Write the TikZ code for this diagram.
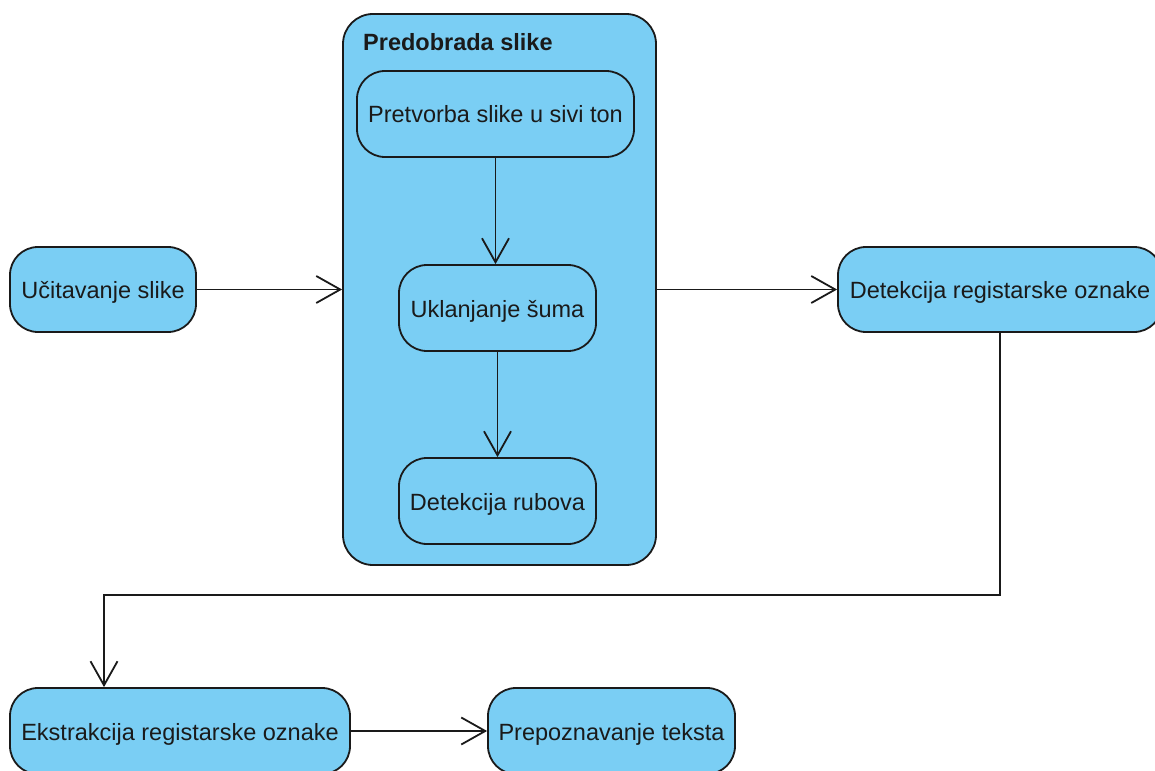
\documentclass[tikz,border=0pt]{standalone}
\usepackage{fontspec}
\setmainfont{Liberation Sans}
\usetikzlibrary{arrows.meta}
\definecolor{boxfill}{HTML}{7ACEF4}
\definecolor{ink}{HTML}{1A1A1A}
\tikzset{
  act/.style={draw=ink, fill=boxfill, line width=1.8pt, rounded corners=28pt,
    inner sep=0pt, align=center, text=ink, text height=23pt, text depth=5pt,
    font=\fontsize{23.5}{28}\selectfont},
  flow/.style={draw=ink, line width=1.8pt, -{Straight Barb[length=24pt,width=27pt,line width=1.8pt]}}
}
\begin{document}
\begin{tikzpicture}[x=1pt,y=-1pt]
\useasboundingbox (0,0) rectangle (1155,770);
\node[act, rounded corners=30pt, minimum width=313pt, minimum height=551pt] (pre) at (499.5,289.5) {};
\node[anchor=base west, text=ink, font=\fontsize{23.5}{28}\selectfont\bfseries, inner sep=0pt] (title) at (363,51) {Predobrada slike};
\node[act, minimum width=277pt, minimum height=86pt] (gray) at (495.5,114) {Pretvorba slike u sivi ton};
\node[act, minimum width=197pt, minimum height=86pt] (noise) at (497.5,308) {Uklanjanje šuma};
\node[act, minimum width=197pt, minimum height=86pt] (edges) at (497.5,501) {Detekcija rubova};
\node[act, minimum width=186pt, minimum height=85pt] (load) at (103,289.5) {Učitavanje slike};
\node[act, minimum width=324pt, minimum height=85pt] (det) at (1000,289.5) {Detekcija registarske oznake};
\node[act, minimum width=340pt, minimum height=86pt] (ext) at (180,731) {Ekstrakcija registarske oznake};
\node[act, minimum width=247pt, minimum height=86pt] (ocr) at (611.5,731) {Prepoznavanje teksta};
\coordinate (bend) at (104,595);
\draw[flow] (load.east) -- (pre.west);
\draw[flow] (gray.south) -- (gray.south |- noise.north);
\draw[flow] (noise.south) -- (edges.north);
\draw[flow] (pre.east) -- (det.west);
\draw[flow] (det.south) |- (bend) -- (bend |- ext.north);
\draw[flow] (ext.east) -- (ocr.west);
\end{tikzpicture}
\end{document}
